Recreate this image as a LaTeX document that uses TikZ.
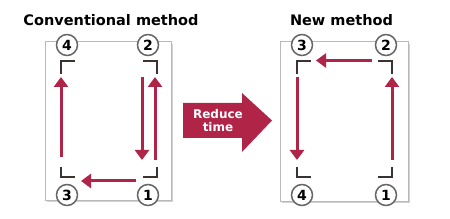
\documentclass[tikz,border=0pt]{standalone}
\usepackage{fontspec}
\setsansfont{DejaVu Sans}
\usetikzlibrary{arrows.meta}
\definecolor{crimson}{RGB}{176,36,72}
\definecolor{bracketgray}{RGB}{60,50,50}
\definecolor{pagegray}{RGB}{185,185,185}
\tikzset{
  page/.style={draw=pagegray, fill=white, line width=1pt},
  shadow/.style={fill=black!18},
  num/.style={circle, draw=black!60, line width=1.5pt, fill=white, minimum size=21pt, inner sep=0pt,
    font=\sffamily\bfseries\fontsize{14}{14}\selectfont},
  flow/.style={crimson, line width=3pt, -{Triangle[width=14pt,length=10pt]}},
  corner/.style={bracketgray, line width=1.2pt},
  title/.style={font=\sffamily\bfseries\fontsize{14.5}{14.5}\selectfont}
}
\begin{document}
\begin{tikzpicture}[x=1pt, y=-1pt]
    \useasboundingbox (0,0) rectangle (450,219);
    % Titles
    \node[title] (tconv) at (111,20) {Conventional method};
    \node[title] (tnew) at (341.5,20) {New method};
    % Pages
    \fill[shadow] (47,44) rectangle (173,202);
    \draw[page] (45,42) rectangle (171,200);
    \fill[shadow] (282,44) rectangle (410,203);
    \draw[page] (280,42) rectangle (408,201);
    % Corner marks - conventional
    \draw[corner] (75,61) -- (61,61) -- (61,74);
    \draw[corner] (143,61) -- (157,61) -- (157,74);
    \draw[corner] (61,167) -- (61,177) -- (75,177);
    \draw[corner] (157,167) -- (157,177) -- (143,177);
    % Corner marks - new
    \draw[corner] (311,61) -- (297,61) -- (297,74);
    \draw[corner] (378,61) -- (392,61) -- (392,74);
    \draw[corner] (297,167) -- (297,177) -- (311,177);
    \draw[corner] (392,167) -- (392,177) -- (378,177);
    % Points - conventional
    \node[num] (c4) at (67,45) {4};
    \node[num] (c2) at (148,45) {2};
    \node[num] (c3) at (67,195) {3};
    \node[num] (c1) at (148,195) {1};
    % Points - new
    \node[num] (n3) at (302,45) {3};
    \node[num] (n2) at (386,45) {2};
    \node[num] (n4) at (302,195) {4};
    \node[num] (n1) at (386,195) {1};
    % Path ends
    \coordinate (cu1) at (155,160);
    \coordinate (cu2) at (155,77);
    \coordinate (cd1) at (142,77);
    \coordinate (cd2) at (142,160);
    \coordinate (cl1) at (136,181);
    \coordinate (cl2) at (81,181);
    \coordinate (cv1) at (61,157);
    \coordinate (cv2) at (61,77);
    \coordinate (nu1) at (392,160);
    \coordinate (nu2) at (392,77);
    \coordinate (nl1) at (372,60.5);
    \coordinate (nl2) at (316,60.5);
    \coordinate (nd1) at (297,77);
    \coordinate (nd2) at (297,160);
    % Paths
    \draw[flow] (cu1) -- (cu2);
    \draw[flow] (cd1) -- (cd2);
    \draw[flow] (cl1) -- (cl2);
    \draw[flow] (cv1) -- (cv2);
    \draw[flow] (nu1) -- (nu2);
    \draw[flow] (nl1) -- (nl2);
    \draw[flow] (nd1) -- (nd2);
    % Big arrow
    \fill[crimson] (183,103) -- (242,103) -- (242,93) -- (272,120.5) -- (242,152) -- (242,138) -- (183,138) -- cycle;
    \node[white, align=center, font=\sffamily\bfseries\fontsize{12}{13}\selectfont] (reduce) at (218,121) {Reduce\\time};
\end{tikzpicture}
\end{document}
